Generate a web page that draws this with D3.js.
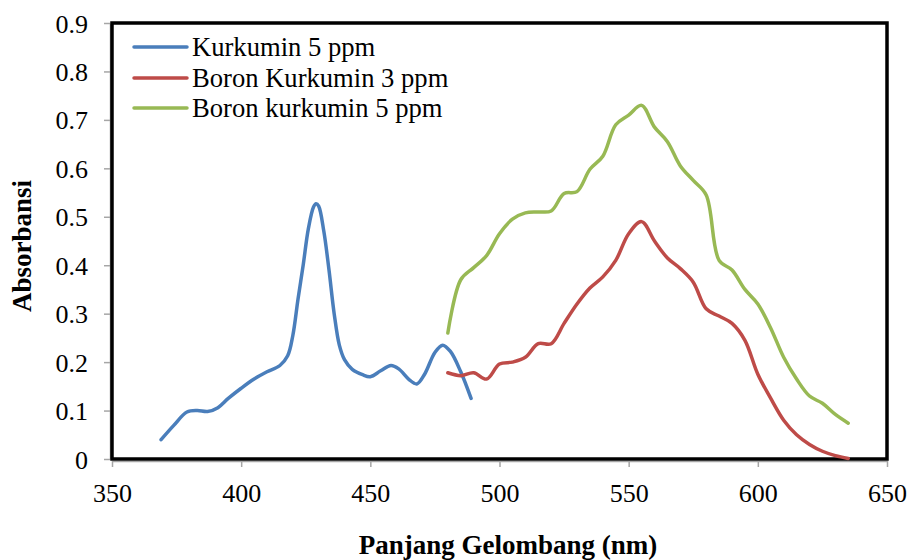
<!DOCTYPE html>
<html>
<head>
<meta charset="utf-8">
<script src="https://cdn.jsdelivr.net/npm/d3@7"></script>
<style>
  html, body { margin: 0; padding: 0; background: #fff; }
  svg { display: block; font-family: "Liberation Serif", "Times New Roman", serif; }
</style>
</head>
<body>
<svg id="chart" width="911" height="560"></svg>
<script>
// ---- Data ----
const seriesNames = ["Kurkumin 5 ppm", "Boron Kurkumin 3 ppm", "Boron kurkumin 5 ppm"];
const seriesColors = ["#4A7EBB", "#BE4B48", "#98B954"];

const kurkuminX = [369, 374, 379, 383, 387, 391, 395, 400, 405, 410, 415, 418, 420, 422, 424, 426, 428, 429, 430, 432, 434, 436, 438, 440, 443, 447, 450, 454, 458, 461, 465, 468, 471, 475, 478, 481, 485, 489];
const kurkuminY = [0.04, 0.07, 0.097, 0.1, 0.098, 0.106, 0.125, 0.146, 0.165, 0.18, 0.193, 0.213, 0.255, 0.33, 0.40, 0.475, 0.52, 0.527, 0.522, 0.47, 0.39, 0.30, 0.235, 0.205, 0.185, 0.174, 0.17, 0.182, 0.193, 0.186, 0.164, 0.155, 0.175, 0.22, 0.235, 0.222, 0.18, 0.125];

const boronX = [480, 485, 490, 495, 500, 505, 510, 515, 520, 525, 530, 535, 540, 545, 550, 555, 560, 565, 570, 575, 580, 585, 590, 595, 600, 605, 610, 615, 620, 625, 630, 635];
const boron3Y = [0.178, 0.172, 0.178, 0.165, 0.196, 0.2, 0.21, 0.238, 0.238, 0.28, 0.32, 0.353, 0.376, 0.41, 0.465, 0.49, 0.45, 0.415, 0.393, 0.365, 0.31, 0.295, 0.28, 0.245, 0.175, 0.125, 0.08, 0.05, 0.03, 0.016, 0.007, 0.001];
const boron5Y = [0.26, 0.37, 0.395, 0.42, 0.465, 0.495, 0.508, 0.51, 0.512, 0.548, 0.552, 0.598, 0.625, 0.69, 0.71, 0.73, 0.685, 0.655, 0.605, 0.575, 0.545, 0.41, 0.39, 0.35, 0.32, 0.27, 0.21, 0.165, 0.13, 0.115, 0.092, 0.074];

const xTicks = [350, 400, 450, 500, 550, 600, 650];
const yTicks = [0, 0.1, 0.2, 0.3, 0.4, 0.5, 0.6, 0.7, 0.8, 0.9];
const xTitle = "Panjang Gelombang (nm)";
const yTitle = "Absorbansi";

// ---- Layout ----
const svg = d3.select("#chart");
const mLeft = 112, mRight = 887, mTop = 23, mBottom = 459;

const x = d3.scaleLinear().domain([350, 650]).range([mLeft, mRight]);
const y = d3.scaleLinear().domain([0, 0.9]).range([mBottom, mTop]);

const series = [
  { name: seriesNames[0], color: seriesColors[0], pts: kurkuminX.map((v, i) => [v, kurkuminY[i]]) },
  { name: seriesNames[1], color: seriesColors[1], pts: boronX.map((v, i) => [v, boron3Y[i]]) },
  { name: seriesNames[2], color: seriesColors[2], pts: boronX.map((v, i) => [v, boron5Y[i]]) }
];

// Axes (grey ticks)
const xAxis = svg.append("g")
  .attr("transform", `translate(0,${mBottom + 2})`)
  .call(d3.axisBottom(x).tickValues(xTicks).tickSize(6).tickSizeOuter(0).tickFormat(d3.format("d")));
xAxis.select(".domain").attr("stroke", "#a6a6a6").attr("stroke-width", 1.5);
xAxis.selectAll(".tick line").attr("stroke", "#a6a6a6").attr("stroke-width", 1.5);
xAxis.selectAll(".tick text").attr("fill", "#000").attr("font-size", 26)
  .attr("font-family", "Liberation Serif").attr("dy", 0).attr("y", 41);

const yAxis = svg.append("g")
  .attr("transform", `translate(${mLeft - 2},0)`)
  .call(d3.axisLeft(y).tickValues(yTicks).tickSize(6).tickSizeOuter(0)
    .tickFormat(d => d === 0 ? "0" : d3.format(".1f")(d)));
yAxis.select(".domain").attr("stroke", "#a6a6a6").attr("stroke-width", 1.5);
yAxis.selectAll(".tick line").attr("stroke", "#a6a6a6").attr("stroke-width", 1.5);
yAxis.selectAll(".tick text").attr("fill", "#000").attr("font-size", 26)
  .attr("font-family", "Liberation Serif").attr("x", -22).attr("dy", "0.35em");

// Plot frame
svg.append("rect")
  .attr("x", mLeft).attr("y", mTop)
  .attr("width", mRight - mLeft).attr("height", mBottom - mTop)
  .attr("fill", "none").attr("stroke", "#000").attr("stroke-width", 3.5);

// Lines
const line = d3.line()
  .x(d => x(d[0])).y(d => y(d[1]))
  .curve(d3.curveCatmullRom.alpha(0.5));

svg.append("g").selectAll("path")
  .data(series)
  .join("path")
  .attr("d", d => line(d.pts))
  .attr("fill", "none")
  .attr("stroke", d => d.color)
  .attr("stroke-width", 3.5)
  .attr("stroke-linecap", "round")
  .attr("stroke-linejoin", "round");

// Legend
const legend = svg.append("g");
const legY = [47, 78, 108];
series.forEach((s, i) => {
  legend.append("line")
    .attr("x1", 134).attr("x2", 187)
    .attr("y1", legY[i]).attr("y2", legY[i])
    .attr("stroke", s.color).attr("stroke-width", 3.5).attr("stroke-linecap", "round");
  legend.append("text")
    .attr("x", 192).attr("y", legY[i] + 9)
    .attr("font-size", 26.6)
    .attr("fill", "#000")
    .text(s.name);
});

// Axis titles
svg.append("text")
  .attr("x", 508).attr("y", 554)
  .attr("text-anchor", "middle")
  .attr("font-size", 27).attr("font-weight", "bold")
  .text(xTitle);

svg.append("text")
  .attr("transform", `translate(31,246) rotate(-90)`)
  .attr("text-anchor", "middle")
  .attr("font-size", 27).attr("font-weight", "bold")
  .text(yTitle);
</script>
</body>
</html>
